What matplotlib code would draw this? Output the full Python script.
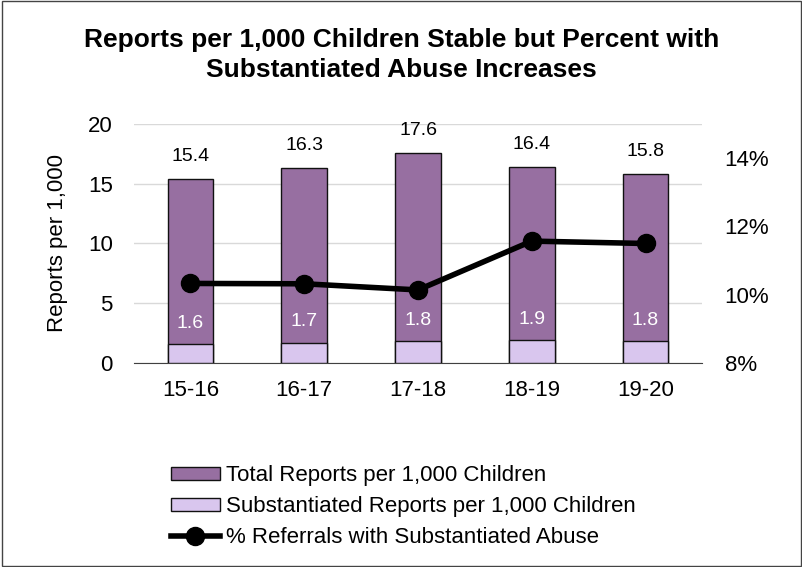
import numpy as np
import matplotlib.pyplot as plt
from matplotlib.lines import Line2D
from matplotlib.patches import Patch, Rectangle

plt.rcParams['font.family'] = ['Liberation Sans', 'DejaVu Sans']

years = ['15-16', '16-17', '17-18', '18-19', '19-20']
total_reports = [15.4, 16.3, 17.6, 16.4, 15.8]
subst_reports = [1.6, 1.7, 1.8, 1.9, 1.8]
pct_subst = [10.33, 10.32, 10.14, 11.57, 11.5]

DARK = '#976FA1'
LIGHT = '#D9C6EE'

fig = plt.figure(figsize=(8.03, 5.67), dpi=100)
fig.patches.append(Rectangle((0.002, 0.002), 0.996, 0.996, transform=fig.transFigure,
                             fill=False, edgecolor='#444444', linewidth=1.0))

ax = fig.add_axes([0.1664, 0.3598, 0.7083, 0.4215])
x = np.arange(len(years))
ax.bar(x, total_reports, width=0.4, color=DARK, edgecolor='#111111', linewidth=1.0, zorder=2)
ax.bar(x, subst_reports, width=0.4, color=LIGHT, edgecolor='#111111', linewidth=1.0, zorder=3)

for xi, t in zip(x, total_reports):
    ax.annotate(f'{t:.1f}', (xi, t), xytext=(0, 16), textcoords='offset points',
                ha='center', va='center', fontsize=14, color='black')
for xi, s in zip(x, subst_reports):
    ax.annotate(f'{s:.1f}', (xi, s), xytext=(0, 15), textcoords='offset points',
                ha='center', va='center', fontsize=14, color='white')

ax.set_xlim(-0.5, len(years) - 0.5)
ax.set_ylim(0, 20)
ax.set_yticks([0, 5, 10, 15, 20])
ax.set_xticks(x)
ax.set_xticklabels(years, fontsize=16)
ax.tick_params(axis='x', length=0, labelsize=16, pad=12)
ax.tick_params(axis='y', length=0, labelsize=16, pad=15)
ax.grid(axis='y', color='#D9D9D9', linewidth=1.0, zorder=0)
ax.set_axisbelow(True)
for s in ['top', 'right', 'left']:
    ax.spines[s].set_visible(False)
ax.spines['bottom'].set_color('#404040')
ax.set_ylabel('Reports per 1,000', fontsize=16, labelpad=14)

ax2 = ax.twinx()
ax2.plot(x, pct_subst, color='black', linewidth=4, marker='o', markersize=13, zorder=5)
ax2.set_ylim(8, 15)
ax2.set_yticks([8, 10, 12, 14])
ax2.set_yticklabels([f'{v}%' for v in [8, 10, 12, 14]], fontsize=16)
ax2.tick_params(axis='y', length=0, pad=16)
for s in ['top', 'right', 'left', 'bottom']:
    ax2.spines[s].set_visible(False)

fig.text(0.5, 0.903, 'Reports per 1,000 Children Stable but Percent with\nSubstantiated Abuse Increases',
         ha='center', va='center', fontsize=19, fontweight='bold', linespacing=1.3)

handles = [Patch(facecolor=DARK, edgecolor='#111111', linewidth=1.0),
           Patch(facecolor=LIGHT, edgecolor='#111111', linewidth=1.0),
           Line2D([], [], color='black', linewidth=4, marker='o', markersize=13)]
labels = ['Total Reports per 1,000 Children', 'Substantiated Reports per 1,000 Children',
          '% Referrals with Substantiated Abuse']
fig.legend(handles, labels, loc='center left', bbox_to_anchor=(0.213, 0.106), frameon=False,
           fontsize=16, handlelength=2.2, handleheight=0.55, handletextpad=0.27,
           labelspacing=0.45, borderpad=0, borderaxespad=0)

fig.savefig('out.png', dpi=100)
